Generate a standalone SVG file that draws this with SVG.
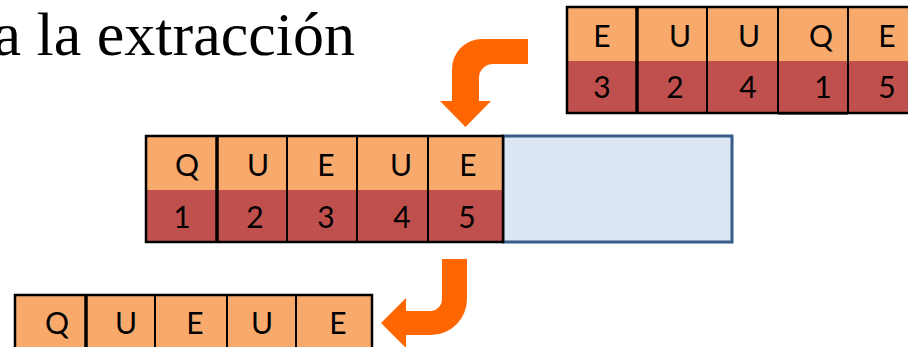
<svg xmlns="http://www.w3.org/2000/svg" width="908" height="347" viewBox="0 0 908 347">
<style>
.top{fill:#f8aa6c}
.bot{fill:#c0504d}
.frame{fill:none;stroke:#000;stroke-width:2.5}
.div{stroke:#000;stroke-width:2}
.thick{stroke:#000;stroke-width:3.5}
.t{font-family:Lato,"Open Sans","Liberation Sans",sans-serif;font-size:30px;fill:#000;text-anchor:middle}
.title{font-family:"Liberation Serif","Times New Roman",serif;font-size:62px;fill:#000}
.arrow{fill:#ff6600}
</style>
<rect width="908" height="347" fill="#fff"/>
<text class="title" x="355" y="55" text-anchor="end">a la extracción</text>

<g id="source">
<rect class="top" x="567" y="7" width="350" height="54"/>
<rect class="bot" x="567" y="61" width="350" height="52"/>
<rect class="frame" x="567" y="7" width="350" height="106"/>
<line class="thick" x1="637" y1="7" x2="637" y2="113"/>
<line class="div" x1="707" y1="7" x2="707" y2="113"/>
<line class="div" x1="778" y1="7" x2="778" y2="113"/>
<line class="div" x1="848" y1="7" x2="848" y2="113"/>
<line x1="778" y1="114.5" x2="848" y2="114.5" stroke="#555" stroke-width="1"/>
<text class="t" x="602" y="47">E</text>
<text class="t" x="680" y="47">U</text>
<text class="t" x="749" y="47">U</text>
<text class="t" x="821" y="47">Q</text>
<text class="t" x="887" y="47">E</text>
<text class="t" x="602" y="98">3</text>
<text class="t" x="675" y="98">2</text>
<text class="t" x="748" y="98">4</text>
<text class="t" x="823" y="98">1</text>
<text class="t" x="887" y="98">5</text>
</g>

<g id="queue">
<rect x="503" y="136" width="229" height="106" fill="#dce6f2" stroke="#385d8a" stroke-width="3"/>
<rect class="top" x="146" y="136" width="357" height="54"/>
<rect class="bot" x="146" y="190" width="357" height="52"/>
<rect class="frame" x="146" y="136" width="357" height="106"/>
<line class="thick" x1="217" y1="136" x2="217" y2="242"/>
<line class="div" x1="287" y1="136" x2="287" y2="242"/>
<line class="div" x1="357" y1="136" x2="357" y2="242"/>
<line class="div" x1="428" y1="136" x2="428" y2="242"/>
<text class="t" x="187" y="176">Q</text>
<text class="t" x="258" y="176">U</text>
<text class="t" x="326" y="176">E</text>
<text class="t" x="401" y="176">U</text>
<text class="t" x="468" y="176">E</text>
<text class="t" x="182" y="228">1</text>
<text class="t" x="255" y="228">2</text>
<text class="t" x="326" y="228">3</text>
<text class="t" x="402" y="228">4</text>
<text class="t" x="467" y="228">5</text>
</g>

<g id="result">
<rect class="top" x="15" y="295" width="357" height="60"/>
<rect class="frame" x="15" y="295" width="357" height="60"/>
<line class="thick" x1="86" y1="295" x2="86" y2="355"/>
<line class="div" x1="155" y1="295" x2="155" y2="355"/>
<line class="div" x1="227" y1="295" x2="227" y2="355"/>
<line class="div" x1="296" y1="295" x2="296" y2="355"/>
<text class="t" x="57" y="334">Q</text>
<text class="t" x="126" y="334">U</text>
<text class="t" x="195" y="334">E</text>
<text class="t" x="262" y="334">U</text>
<text class="t" x="338" y="334">E</text>
</g>

<g id="connectors">
<path class="arrow" d="M528,39 L482,39 A30,30 0 0 0 452,69 L452,101 L440,101 L465.5,127 L491,101 L479,101 L479,78 A14,14 0 0 1 493,64 L528,64 Z"/>
<path class="arrow" d="M442,259 L467,259 L467,299 A36,36 0 0 1 431,335 L406,335 L406,348 L381,323 L406,298 L406,311 L430,311 A12,12 0 0 0 442,299 Z"/>
</g>
</svg>
